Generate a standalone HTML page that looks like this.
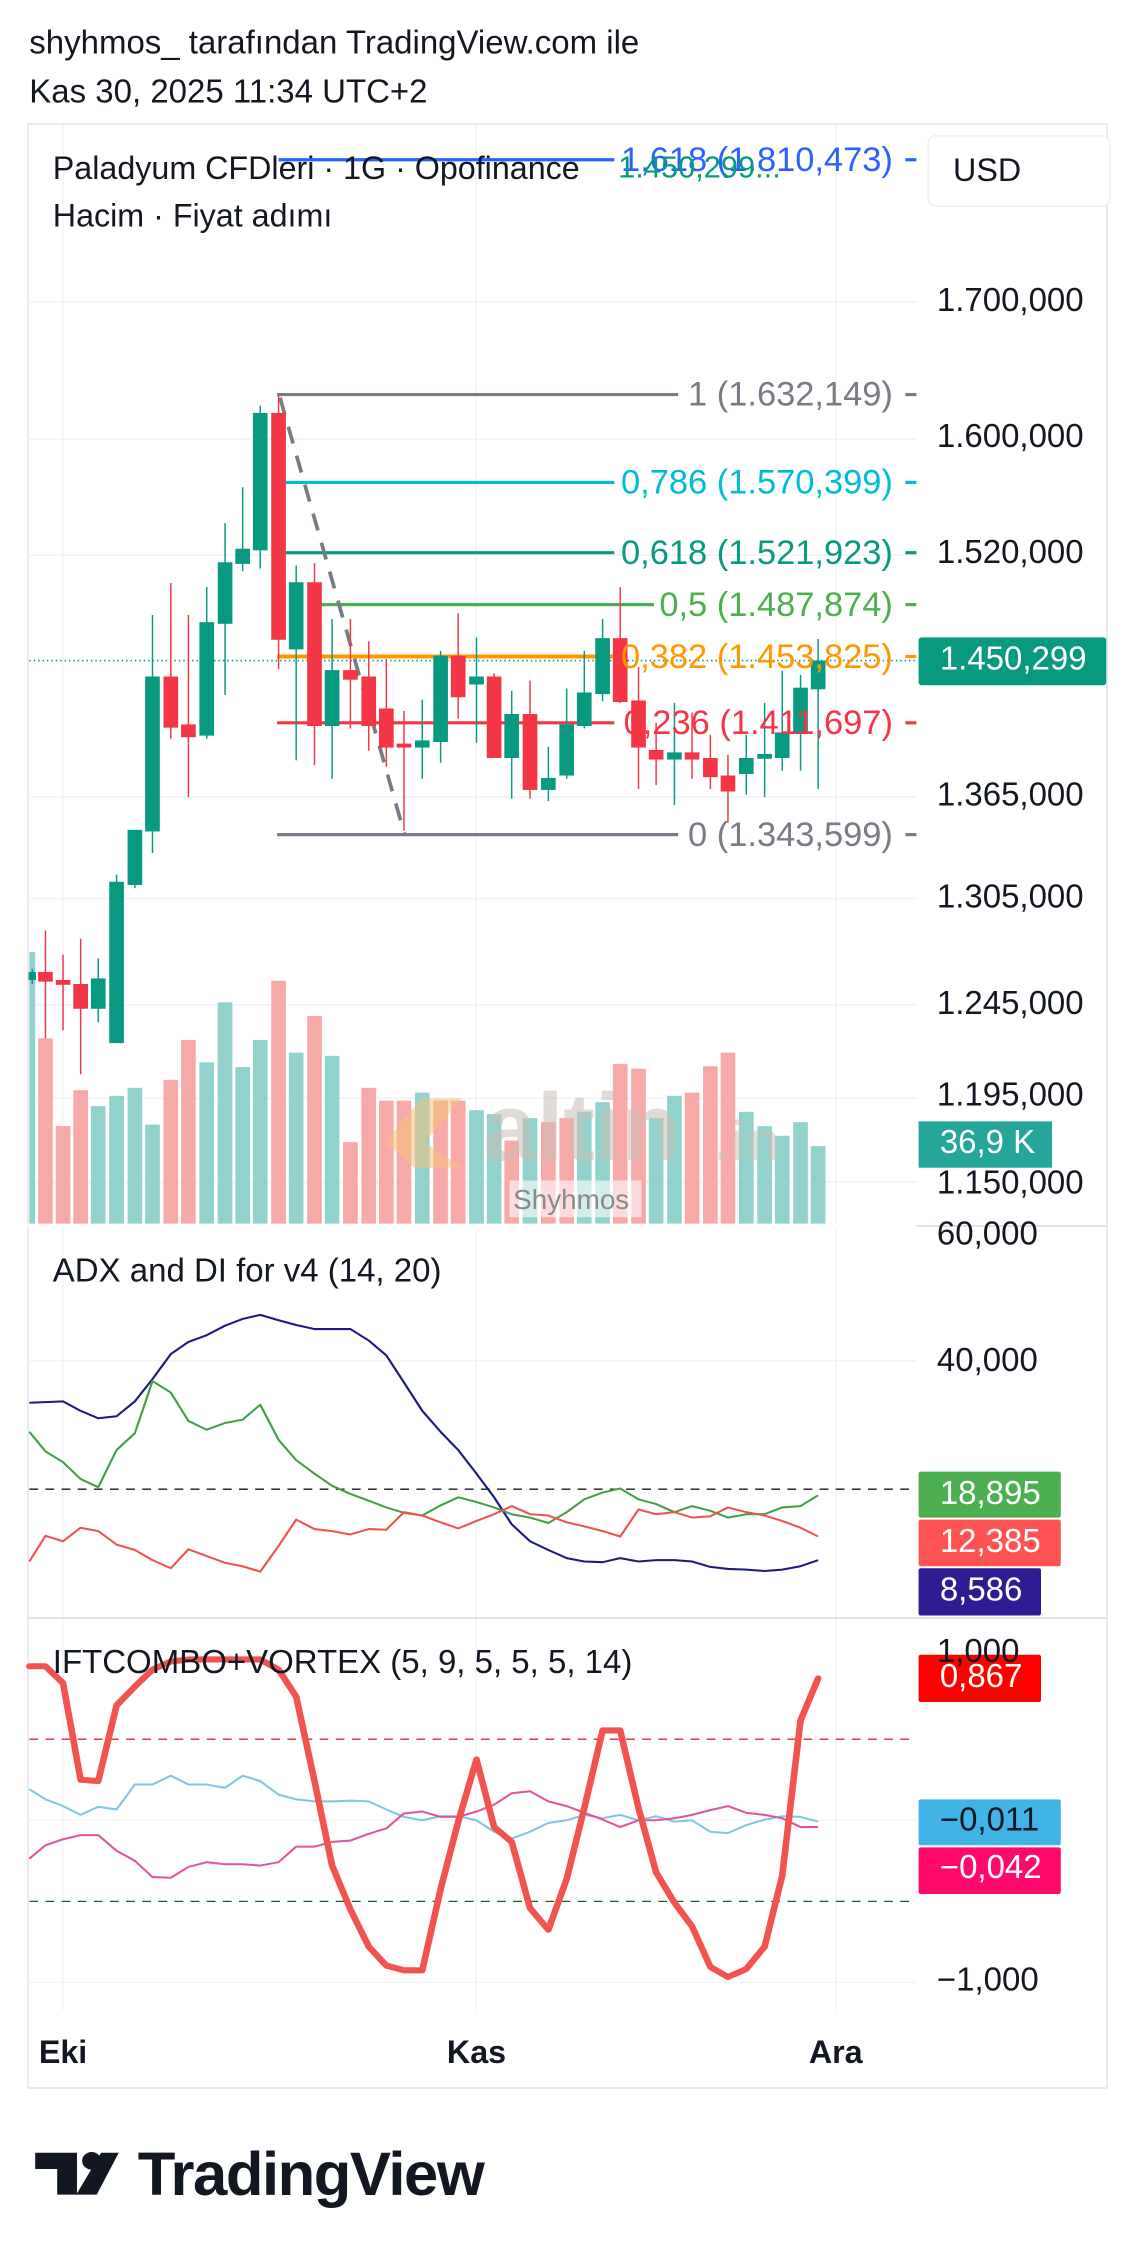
<!DOCTYPE html>
<html><head><meta charset="utf-8"><style>
html,body{margin:0;padding:0;background:#fff;}
svg{display:block;}
text{font-family:"Liberation Sans",sans-serif;}
</style></head><body>
<svg width="1136" height="2257" viewBox="0 0 1136 2257" xmlns="http://www.w3.org/2000/svg">
<rect width="1136" height="2257" fill="#fff"/>
<rect x="28" y="124" width="1079" height="1964" fill="none" stroke="#e0e3eb" stroke-width="1.5"/>
<g stroke="#f0f3fa" stroke-width="1.5">
<line x1="63" y1="125" x2="63" y2="2010"/><line x1="476" y1="125" x2="476" y2="2010"/><line x1="836" y1="125" x2="836" y2="2010"/>
</g>
<line x1="28" y1="1226" x2="1107" y2="1226" stroke="#e0e3eb" stroke-width="2"/>
<line x1="28" y1="1618" x2="1107" y2="1618" stroke="#e0e3eb" stroke-width="2"/>

<g transform="scale(0.7331,0.7987)">
<g stroke="#f0f3fa" stroke-width="2">
<line x1="38" y1="378" x2="1250" y2="378"/><line x1="38" y1="550" x2="1250" y2="550"/><line x1="38" y1="695" x2="1250" y2="695"/><line x1="38" y1="998" x2="1250" y2="998"/><line x1="38" y1="1125" x2="1250" y2="1125"/><line x1="38" y1="1258" x2="1250" y2="1258"/><line x1="38" y1="1375" x2="1250" y2="1375"/><line x1="38" y1="1480" x2="1250" y2="1480"/>
</g>
<g fill="#92d2cc">
<rect x="40" y="1192" width="8" height="340"/>
<rect x="124" y="1385" width="20" height="147"/><rect x="149" y="1372" width="20" height="160"/><rect x="174" y="1362" width="20" height="170"/><rect x="198" y="1408" width="20" height="124"/><rect x="272" y="1330" width="20" height="202"/><rect x="297" y="1255" width="20" height="277"/><rect x="321" y="1336" width="20" height="196"/><rect x="345" y="1302" width="20" height="230"/><rect x="394" y="1318" width="20" height="214"/><rect x="443" y="1322" width="20" height="210"/><rect x="566" y="1368" width="20" height="164"/><rect x="640" y="1390" width="20" height="142"/><rect x="664" y="1395" width="20" height="137"/><rect x="713" y="1400" width="20" height="132"/><rect x="787" y="1392" width="20" height="140"/><rect x="812" y="1380" width="20" height="152"/><rect x="885" y="1400" width="20" height="132"/><rect x="910" y="1372" width="20" height="160"/><rect x="1008" y="1392" width="20" height="140"/><rect x="1033" y="1410" width="20" height="122"/><rect x="1057" y="1422" width="20" height="110"/><rect x="1082" y="1405" width="20" height="127"/><rect x="1106" y="1435" width="20" height="97"/>
</g>
<g fill="#f7a9a7">
<rect x="52" y="1300" width="20" height="232"/><rect x="76" y="1410" width="20" height="122"/><rect x="100" y="1365" width="20" height="167"/><rect x="223" y="1352" width="20" height="180"/><rect x="247" y="1302" width="20" height="230"/><rect x="370" y="1228" width="20" height="304"/><rect x="419" y="1272" width="20" height="260"/><rect x="468" y="1430" width="20" height="102"/><rect x="493" y="1362" width="20" height="170"/><rect x="517" y="1378" width="20" height="154"/><rect x="541" y="1378" width="20" height="154"/><rect x="591" y="1378" width="20" height="154"/><rect x="615" y="1378" width="20" height="154"/><rect x="688" y="1428" width="20" height="104"/><rect x="738" y="1405" width="20" height="127"/><rect x="763" y="1400" width="20" height="132"/><rect x="836" y="1332" width="20" height="200"/><rect x="861" y="1338" width="20" height="194"/><rect x="934" y="1368" width="20" height="164"/><rect x="959" y="1335" width="20" height="197"/><rect x="983" y="1318" width="20" height="214"/>
</g>
<path d="M525 1430 L575 1375 L630 1375 L580 1430 L630 1462 L565 1462 Z" fill="#f3c27a" opacity="0.55"/>
<g stroke-width="4">
<line x1="380" y1="200" x2="838" y2="200" stroke="#2962ff"/>
<line x1="378" y1="494" x2="925" y2="494" stroke="#787b86"/>
<line x1="390" y1="604" x2="838" y2="604" stroke="#00bcd4"/>
<line x1="390" y1="692" x2="838" y2="692" stroke="#089981"/>
<line x1="438" y1="757" x2="892" y2="757" stroke="#4caf50"/>
<line x1="378" y1="822" x2="838" y2="822" stroke="#ff9800" stroke-width="5"/>
<line x1="378" y1="905" x2="838" y2="905" stroke="#f23645"/>
<line x1="378" y1="1045" x2="925" y2="1045" stroke="#787b86"/>
</g>
<line x1="382" y1="498" x2="552" y2="1045" stroke="#787b86" stroke-width="5" stroke-dasharray="22,16"/>
<line x1="40" y1="827" x2="1250" y2="827" stroke="#089981" stroke-width="2" stroke-dasharray="2,4"/>
<g stroke="#089981" fill="#089981" stroke-width="2">
<line x1="44" y1="1213" x2="44" y2="1232"/><rect x="40" y="1218" width="8" height="8"/>
<line x1="134" y1="1200" x2="134" y2="1280"/><rect x="125" y="1226" width="18" height="36"/>
<line x1="159" y1="1095" x2="159" y2="1305"/><rect x="150" y="1105" width="18" height="200"/>
<line x1="184" y1="1065" x2="184" y2="1112"/><rect x="175" y="1040" width="18" height="67"/>
<line x1="208" y1="770" x2="208" y2="1068"/><rect x="199" y="848" width="18" height="192"/>
<line x1="282" y1="735" x2="282" y2="925"/><rect x="273" y="780" width="18" height="140"/>
<line x1="307" y1="655" x2="307" y2="870"/><rect x="298" y="705" width="18" height="75"/>
<line x1="331" y1="610" x2="331" y2="715"/><rect x="322" y="688" width="18" height="17"/>
<line x1="355" y1="508" x2="355" y2="712"/><rect x="346" y="518" width="18" height="170"/>
<line x1="404" y1="708" x2="404" y2="952"/><rect x="395" y="730" width="18" height="82"/>
<line x1="453" y1="775" x2="453" y2="975"/><rect x="444" y="840" width="18" height="68"/>
<line x1="576" y1="876" x2="576" y2="975"/><rect x="567" y="928" width="18" height="7"/>
<line x1="601" y1="815" x2="601" y2="955"/><rect x="592" y="822" width="18" height="106"/>
<line x1="650" y1="798" x2="650" y2="930"/><rect x="641" y="848" width="18" height="8"/>
<line x1="698" y1="865" x2="698" y2="1000"/><rect x="689" y="895" width="18" height="53"/>
<line x1="748" y1="935" x2="748" y2="1003"/><rect x="739" y="975" width="18" height="13"/>
<line x1="773" y1="862" x2="773" y2="975"/><rect x="764" y="908" width="18" height="62"/>
<line x1="797" y1="815" x2="797" y2="912"/><rect x="788" y="868" width="18" height="40"/>
<line x1="822" y1="775" x2="822" y2="878"/><rect x="813" y="800" width="18" height="68"/>
<line x1="920" y1="880" x2="920" y2="1008"/><rect x="911" y="943" width="18" height="7"/>
<line x1="1018" y1="920" x2="1018" y2="995"/><rect x="1009" y="950" width="18" height="18"/>
<line x1="1043" y1="880" x2="1043" y2="998"/><rect x="1034" y="945" width="18" height="4"/>
<line x1="1067" y1="840" x2="1067" y2="965"/><rect x="1058" y="918" width="18" height="30"/>
<line x1="1092" y1="845" x2="1092" y2="965"/><rect x="1083" y="862" width="18" height="56"/>
<line x1="1116" y1="800" x2="1116" y2="988"/><rect x="1107" y="828" width="18" height="34"/>
</g>
<g stroke="#f23645" fill="#f23645" stroke-width="2">
<line x1="62" y1="1165" x2="62" y2="1300"/><rect x="53" y="1218" width="18" height="10"/>
<line x1="86" y1="1195" x2="86" y2="1290"/><rect x="77" y="1228" width="18" height="4"/>
<line x1="110" y1="1175" x2="110" y2="1345"/><rect x="101" y="1233" width="18" height="29"/>
<line x1="233" y1="730" x2="233" y2="925"/><rect x="224" y="848" width="18" height="62"/>
<line x1="257" y1="770" x2="257" y2="998"/><rect x="248" y="908" width="18" height="14"/>
<line x1="380" y1="495" x2="380" y2="838"/><rect x="371" y="518" width="18" height="282"/>
<line x1="429" y1="705" x2="429" y2="958"/><rect x="420" y="730" width="18" height="178"/>
<line x1="478" y1="775" x2="478" y2="912"/><rect x="469" y="840" width="18" height="10"/>
<line x1="503" y1="803" x2="503" y2="940"/><rect x="494" y="848" width="18" height="60"/>
<line x1="527" y1="825" x2="527" y2="960"/><rect x="518" y="888" width="18" height="47"/>
<line x1="551" y1="890" x2="551" y2="1040"/><rect x="542" y="932" width="18" height="3"/>
<line x1="625" y1="768" x2="625" y2="900"/><rect x="616" y="822" width="18" height="50"/>
<line x1="674" y1="843" x2="674" y2="948"/><rect x="665" y="848" width="18" height="100"/>
<line x1="723" y1="852" x2="723" y2="1000"/><rect x="714" y="895" width="18" height="93"/>
<line x1="846" y1="735" x2="846" y2="880"/><rect x="837" y="800" width="18" height="78"/>
<line x1="871" y1="835" x2="871" y2="988"/><rect x="862" y="878" width="18" height="57"/>
<line x1="895" y1="905" x2="895" y2="983"/><rect x="886" y="940" width="18" height="10"/>
<line x1="944" y1="892" x2="944" y2="975"/><rect x="935" y="943" width="18" height="7"/>
<line x1="969" y1="920" x2="969" y2="988"/><rect x="960" y="950" width="18" height="22"/>
<line x1="993" y1="945" x2="993" y2="1030"/><rect x="984" y="972" width="18" height="18"/>
</g>
<g stroke-width="4">
<line x1="1235" y1="200" x2="1250" y2="200" stroke="#2962ff"/><line x1="1235" y1="494" x2="1250" y2="494" stroke="#787b86"/><line x1="1235" y1="604" x2="1250" y2="604" stroke="#00bcd4"/><line x1="1235" y1="692" x2="1250" y2="692" stroke="#089981"/><line x1="1235" y1="757" x2="1250" y2="757" stroke="#4caf50"/><line x1="1235" y1="822" x2="1250" y2="822" stroke="#ff9800"/><line x1="1235" y1="905" x2="1250" y2="905" stroke="#f23645"/><line x1="1235" y1="1045" x2="1250" y2="1045" stroke="#787b86"/>
</g>
<rect x="1266" y="170" width="248" height="88" rx="10" fill="#fff" stroke="#eef0f4" stroke-width="2"/>
<rect x="1253" y="798" width="256" height="60" rx="4" fill="#089981"/>
<rect x="1253" y="1404" width="182" height="58" fill="#26a69a"/>
<rect x="38" y="1533" width="1212" height="4" fill="#fff"/>
<rect x="695" y="1478" width="180" height="46" fill="#fff" opacity="0.6"/>

<g transform="scale(1,0.9179)">
<text x="40" y="73" font-size="45" fill="#131722">shyhmos_ tarafından TradingView.com ile</text>
<text x="40" y="140" font-size="45" fill="#131722">Kas 30, 2025 11:34 UTC+2</text>
<text x="660" y="1582" font-size="130" font-weight="bold" fill="#c8bfb4" opacity="0.55">altin</text>
<text x="975" y="1582" font-size="76" font-weight="bold" fill="#c8bfb4" opacity="0.5">.in</text>
<text x="700" y="1649" font-size="38" fill="#8a8a8a">Shyhmos</text>
<g font-size="47" text-anchor="end">
<text x="1218" y="233" fill="#2962ff">1,618 (1.810,473)</text>
<text x="1065" y="242" fill="#089981" font-size="42">1.450,299...</text>
<text x="1218" y="553" fill="#787b86">1 (1.632,149)</text>
<text x="1218" y="673" fill="#00bcd4">0,786 (1.570,399)</text>
<text x="1218" y="769" fill="#089981">0,618 (1.521,923)</text>
<text x="1218" y="840" fill="#4caf50">0,5 (1.487,874)</text>
<text x="1218" y="911" fill="#ff9800">0,382 (1.453,825)</text>
<text x="1218" y="1001" fill="#f23645">0,236 (1.411,697)</text>
<text x="1218" y="1154" fill="#787b86">0 (1.343,599)</text>
</g>
<text x="72" y="244" font-size="44" fill="#131722">Paladyum CFDleri · 1G · Opofinance</text>
<text x="72" y="309" font-size="44" fill="#131722">Hacim · Fiyat adımı</text>
<text x="1300" y="247" font-size="44" fill="#131722">USD</text>
<g font-size="45" fill="#131722">
<text x="1278" y="424">1.700,000</text><text x="1278" y="610">1.600,000</text><text x="1278" y="768">1.520,000</text><text x="1278" y="1099">1.365,000</text><text x="1278" y="1238">1.305,000</text><text x="1278" y="1383">1.245,000</text><text x="1278" y="1508">1.195,000</text><text x="1278" y="1628">1.150,000</text>
</g>
<text x="1282" y="913" font-size="45" fill="#fff">1.450,299</text>
<text x="1282" y="1573" font-size="45" fill="#fff">36,9 K</text>
</g>
</g>

<g transform="translate(0,1200) scale(0.7331,0.6757)">
<line x1="40" y1="428" x2="1250" y2="428" stroke="#131722" stroke-width="2" stroke-dasharray="12,10"/>
<line x1="38" y1="238" x2="1250" y2="238" stroke="#f0f3fa" stroke-width="2"/>
<line x1="38" y1="918" x2="1250" y2="918" stroke="#f0f3fa" stroke-width="2"/>
<line x1="38" y1="1158" x2="1250" y2="1158" stroke="#f0f3fa" stroke-width="2"/>
<g fill="none" stroke-width="3" stroke-linejoin="round">
<polyline stroke="#1a1a80" points="40,300 86,298 110,312 134,323 159,320 184,298 208,265 233,228 257,210 282,200 307,186 331,176 355,170 380,178 404,185 429,191 453,191 478,191 503,208 527,230 551,270 576,312 601,343 625,370 650,405 674,440 698,480 723,505 748,518 773,530 797,535 822,536 846,530 871,535 895,533 920,533 944,535 969,543 993,546 1018,547 1043,549 1067,547 1092,542 1116,533"/>
<polyline stroke="#43a047" points="40,343 62,372 86,388 110,413 134,425 159,370 184,345 208,268 233,285 257,327 282,340 307,330 331,325 355,303 380,355 404,385 429,405 453,423 478,435 503,445 527,455 551,463 576,467 601,452 625,440 650,447 674,455 698,465 723,470 748,478 773,462 797,443 822,433 846,427 871,443 895,450 920,462 944,453 969,460 993,470 1018,465 1043,465 1067,455 1092,453 1116,437"/>
<polyline stroke="#ef5350" points="40,535 62,497 86,505 110,485 134,490 159,510 184,518 208,533 233,545 257,517 282,527 307,537 331,542 355,550 380,512 404,473 429,487 453,490 478,495 503,487 527,488 551,462 576,467 601,477 625,486 650,475 674,465 698,453 723,465 748,467 773,477 797,483 822,490 846,498 871,458 895,465 920,462 944,470 969,468 993,455 1018,462 1043,467 1067,475 1092,485 1116,498"/>
</g>
<rect x="1253" y="402" width="194" height="68" rx="3" fill="#4caf50"/>
<rect x="1253" y="473" width="194" height="69" rx="3" fill="#ff5252"/>
<rect x="1253" y="545" width="167" height="70" rx="3" fill="#311b92"/>
<line x1="40" y1="798" x2="1250" y2="798" stroke="#d32f2f" stroke-width="2" stroke-dasharray="12,10"/>
<line x1="40" y1="1038" x2="1250" y2="1038" stroke="#1b5e20" stroke-width="2" stroke-dasharray="12,10"/>
<g fill="none" stroke-linejoin="round">
<polyline stroke="#7ec8e3" stroke-width="3" points="40,872 62,887 86,897 110,910 134,898 159,902 184,865 208,865 233,852 257,865 282,865 307,870 331,852 355,860 380,880 404,887 429,890 453,890 478,889 503,890 527,902 551,913 576,918 601,912 625,912 650,918 674,935 698,945 723,935 748,922 773,918 797,910 822,915 846,910 871,918 895,912 920,920 944,918 969,935 993,937 1018,925 1043,917 1067,912 1092,913 1116,920"/>
<polyline stroke="#e0559c" stroke-width="3" points="40,975 62,955 86,946 110,940 134,940 159,963 184,978 208,1002 233,1003 257,987 282,980 307,983 331,983 355,985 380,980 404,957 429,957 453,950 478,948 503,938 527,930 551,908 576,905 601,913 625,913 650,905 674,895 698,878 723,875 748,890 773,897 797,907 822,917 846,928 871,918 895,918 920,915 944,910 969,903 993,897 1018,907 1043,910 1067,915 1092,928 1116,928"/>
<polyline stroke="#f05350" stroke-width="9" stroke-linecap="round" points="40,690 62,690 86,715 110,858 134,860 159,748 184,720 208,695 233,683 257,680 282,680 307,680 331,680 355,680 380,695 404,735 429,860 453,985 478,1050 503,1105 527,1133 551,1140 576,1140 601,1020 625,920 650,828 674,928 698,950 723,1048 748,1080 773,1005 797,900 822,785 846,785 871,900 895,995 920,1040 944,1075 969,1135 993,1150 1018,1138 1043,1105 1067,1000 1092,770 1116,708"/>
</g>
<rect x="1253" y="673" width="167" height="70" rx="3" fill="#ff0000"/>
<rect x="1253" y="887" width="194" height="68" rx="3" fill="#42b3e5"/>
<rect x="1253" y="958" width="194" height="69" rx="3" fill="#ff0a6c"/>
<g fill="#131722">
<path d="M48 1410 H105 V1472 H78 V1434 H48 Z"/>
<circle cx="125" cy="1422" r="13"/>
<path d="M138 1410 H162 L132 1472 H104 Z"/>
</g>
<g transform="scale(1,1.085)">
<text x="1278" y="61" font-size="45" fill="#131722">60,000</text>
<text x="72" y="111" font-size="45" fill="#131722">ADX and DI for v4 (14, 20)</text>
<text x="1278" y="233" font-size="45" fill="#131722">40,000</text>
<text x="1282" y="415" font-size="45" fill="#fff">18,895</text>
<text x="1282" y="480" font-size="45" fill="#fff">12,385</text>
<text x="1282" y="546" font-size="45" fill="#fff">8,586</text>
<text x="1278" y="630" font-size="45" fill="#131722">1,000</text>
<text x="72" y="645" font-size="45" fill="#131722">IFTCOMBO+VORTEX (5, 9, 5, 5, 5, 14)</text>
<text x="1282" y="664" font-size="45" fill="#fff">0,867</text>
<text x="1282" y="860" font-size="45" fill="#131722">−0,011</text>
<text x="1282" y="925" font-size="45" fill="#fff">−0,042</text>
<text x="1278" y="1078" font-size="45" fill="#131722">−1,000</text>
<g font-size="44" font-weight="bold" fill="#131722" text-anchor="middle">
<text x="86" y="1177">Eki</text><text x="650" y="1177">Kas</text><text x="1140" y="1177">Ara</text>
</g>
<text x="188" y="1357" font-size="84" font-weight="bold" fill="#131722" letter-spacing="-2">TradingView</text>
</g>
</g>
</svg>
</body></html>
